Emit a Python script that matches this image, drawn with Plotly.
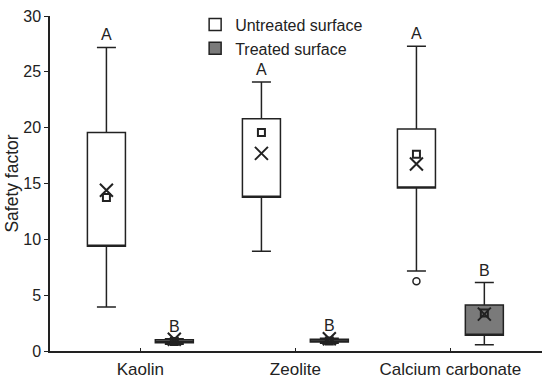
import plotly.graph_objects as go

# ---- data ----
categories = ["Kaolin", "Zeolite", "Calcium carbonate"]

untreated_lower = [3.94, 8.93, 7.17]
untreated_q1 = [9.38, 13.77, 14.6]
untreated_q3 = [19.57, 20.79, 19.87]
untreated_upper = [27.19, 24.1, 27.3]
untreated_median = [13.75, 19.57, 17.63]
untreated_mean = [14.4, 17.7, 16.75]
untreated_outlier_cat = ["Calcium carbonate"]
untreated_outlier_val = [6.25]
untreated_letters = ["A", "A", "A"]

treated_lower = [0.6, 0.7, 0.57]
treated_q1 = [0.75, 0.8, 1.41]
treated_q3 = [1.0, 1.05, 4.12]
treated_upper = [1.1, 1.15, 6.13]
treated_median = [0.85, 0.9, 3.4]
treated_mean = [1.05, 1.1, 3.3]
treated_letters = ["B", "B", "B"]

# ---- style ----
FONT = "Arial, Liberation Sans, sans-serif"
INK = "#222222"
BOXGAP = 0.124
BOXGROUPGAP = 0.44

fig = go.Figure()


def add_group(name, gid, fill, lower, q1, q3, upper, median, mean):
    # box body + whiskers (no median line in the reference, so the median
    # line is laid onto the lower box edge and the median is shown as a square)
    fig.add_trace(go.Box(
        name=name, x=categories, q1=q1, median=q1, q3=q3,
        lowerfence=lower, upperfence=upper,
        offsetgroup=gid, fillcolor=fill,
        line=dict(color=INK, width=1.5), whiskerwidth=0.5,
        boxpoints=False, hoverinfo="skip"))
    # median markers (square) and mean markers (x)
    for vals, sym, size in ((median, "square-open", 7), (mean, "x-thin-open", 13)):
        fig.add_trace(go.Box(
            x=categories, y=vals, offsetgroup=gid, showlegend=False,
            boxpoints="all", jitter=0, pointpos=0,
            fillcolor="rgba(0,0,0,0)", line=dict(color="rgba(0,0,0,0)", width=0),
            marker=dict(symbol=sym, size=size, color=INK,
                        line=dict(color=INK, width=2)),
            hoverinfo="skip"))


add_group("Untreated surface", "u", "white", untreated_lower, untreated_q1,
          untreated_q3, untreated_upper, untreated_median, untreated_mean)
add_group("Treated surface", "t", "#7a7a7a", treated_lower, treated_q1,
          treated_q3, treated_upper, treated_median, treated_mean)

# outlier
fig.add_trace(go.Box(
    x=untreated_outlier_cat, y=untreated_outlier_val, offsetgroup="u",
    showlegend=False, boxpoints="all", jitter=0, pointpos=0,
    fillcolor="rgba(0,0,0,0)", line=dict(color="rgba(0,0,0,0)", width=0),
    marker=dict(symbol="circle-open", size=7, color=INK, line=dict(color=INK, width=1.5)),
    hoverinfo="skip"))

# significance letters above the upper whiskers
shift = (1 - BOXGAP) / 4
for i, cat in enumerate(categories):
    for letters, upper, off in ((untreated_letters, untreated_upper, -shift),
                                (treated_letters, treated_upper, shift)):
        fig.add_annotation(x=i + off, y=upper[i], text=letters[i],
                           showarrow=False, yanchor="bottom", yshift=2,
                           font=dict(family=FONT, size=16, color=INK))

fig.update_layout(
    width=550, height=385,
    margin=dict(l=50, r=8, t=16, b=34, autoexpand=False),
    paper_bgcolor="white", plot_bgcolor="white",
    boxmode="group", boxgap=BOXGAP, boxgroupgap=BOXGROUPGAP,
    font=dict(family=FONT, size=16, color=INK),
    legend=dict(x=0.295, y=1.025, xanchor="left", yanchor="top",
                bgcolor="rgba(0,0,0,0)", font=dict(size=16),
                tracegroupgap=0),
    showlegend=True,
)
fig.update_xaxes(type="category", categoryorder="array", categoryarray=categories,
                 range=[-0.583, 2.591], showline=True, linecolor=INK, linewidth=1.5,
                 ticks="inside", ticklen=3, tickcolor=INK, showgrid=False,
                 zeroline=False, tickfont=dict(size=17), automargin=False,
                 ticklabelstandoff=2)
fig.update_yaxes(range=[0, 30], dtick=5, showline=True, linecolor=INK, linewidth=1.5,
                 ticks="outside", ticklen=4, tickcolor=INK, showgrid=False,
                 zeroline=False,
                 title=dict(text="Safety factor", standoff=0, font=dict(size=17.5)),
                 tickfont=dict(size=16), automargin=False)

# the page body has a default 8px margin; remove it so the figure sits at 0,0
fig.write_html("out.html", config={"displayModeBar": False},
               post_script="document.body.style.margin='0';")
